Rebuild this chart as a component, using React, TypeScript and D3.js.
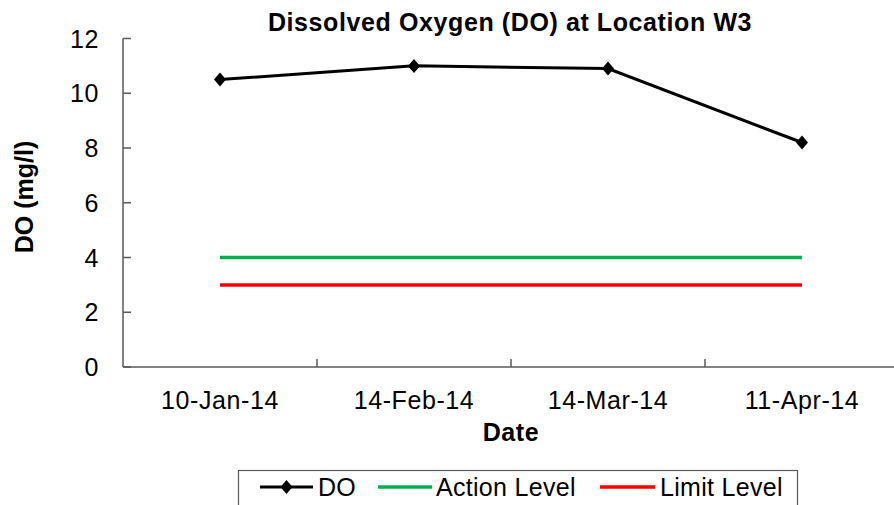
import { useEffect, useRef } from "react";
import * as d3 from "d3";

// data
const DATES = ["10-Jan-14", "14-Feb-14", "14-Mar-14", "11-Apr-14"];
const DO_VALUES = [10.5, 11.0, 10.9, 8.2];
const ACTION_LEVEL = [4, 4, 4, 4];
const LIMIT_LEVEL = [3, 3, 3, 3];
const Y_TICKS = [0, 2, 4, 6, 8, 10, 12];

const W = 894;
const H = 505;
const LEFT = 123;
const RIGHT = 899;
const TOP = 38.5;
const BOTTOM = 367;
const FONT = "'Liberation Sans', Arial, sans-serif";
const AXIS_COLOR = "#595959";
const GREEN = "#00B050";
const RED = "#FF0000";

const diamond = "M0,-7L6,0L0,7L-6,0Z";

export default function App() {
  const svgRef = useRef<SVGSVGElement>(null);

  useEffect(() => {
    if (!svgRef.current) return;
    const svg = d3.select(svgRef.current);
    svg.selectAll("*").remove();

    const x = d3.scaleBand<string>().domain(DATES).range([LEFT, RIGHT]);
    const y = d3.scaleLinear().domain([0, 12]).range([BOTTOM, TOP]);
    const cx = (d: string) => (x(d) as number) + x.bandwidth() / 2;

    const text = (sel: d3.Selection<SVGTextElement, unknown, null, undefined>) =>
      sel.attr("font-family", FONT).attr("font-size", 25).attr("letter-spacing", 0.6).attr("fill", "#000");

    // title
    svg.append("text").call(text)
      .attr("x", 510).attr("y", 31).attr("text-anchor", "middle")
      .attr("font-weight", "bold")
      .text("Dissolved Oxygen (DO) at Location W3");

    // y axis
    svg.append("line")
      .attr("x1", LEFT).attr("x2", LEFT).attr("y1", TOP).attr("y2", BOTTOM)
      .attr("stroke", AXIS_COLOR).attr("stroke-width", 1.5);
    Y_TICKS.forEach((t) => {
      svg.append("line")
        .attr("x1", LEFT).attr("x2", LEFT + 8).attr("y1", y(t)).attr("y2", y(t))
        .attr("stroke", AXIS_COLOR).attr("stroke-width", 1.5);
      svg.append("text").call(text)
        .attr("x", 99).attr("y", y(t) + 9).attr("text-anchor", "end")
        .text(String(t));
    });

    // x axis
    svg.append("line")
      .attr("x1", LEFT).attr("x2", RIGHT).attr("y1", BOTTOM).attr("y2", BOTTOM)
      .attr("stroke", AXIS_COLOR).attr("stroke-width", 1.5);
    DATES.forEach((d, i) => {
      const bx = (x(d) as number) + x.bandwidth();
      if (i < DATES.length - 1) {
        svg.append("line")
          .attr("x1", bx).attr("x2", bx).attr("y1", BOTTOM).attr("y2", BOTTOM - 8)
          .attr("stroke", AXIS_COLOR).attr("stroke-width", 1.5);
      }
      svg.append("text").call(text)
        .attr("x", cx(d)).attr("y", 409).attr("text-anchor", "middle")
        .text(d);
    });

    // axis titles
    svg.append("text").call(text)
      .attr("x", (LEFT + RIGHT) / 2).attr("y", 441).attr("text-anchor", "middle")
      .attr("font-weight", "bold").text("Date");
    svg.append("text").call(text)
      .attr("transform", `translate(33,197) rotate(-90)`)
      .attr("text-anchor", "middle").attr("font-weight", "bold")
      .attr("letter-spacing", 0)
      .text("DO (mg/l)");

    // series
    const line = d3.line<number>()
      .x((_, i) => cx(DATES[i]))
      .y((v) => y(v));

    svg.append("path").datum(LIMIT_LEVEL)
      .attr("d", line).attr("fill", "none").attr("stroke", RED).attr("stroke-width", 3.5);
    svg.append("path").datum(ACTION_LEVEL)
      .attr("d", line).attr("fill", "none").attr("stroke", GREEN).attr("stroke-width", 3.5);
    svg.append("path").datum(DO_VALUES)
      .attr("d", line).attr("fill", "none").attr("stroke", "#000").attr("stroke-width", 3);
    DO_VALUES.forEach((v, i) => {
      svg.append("path")
        .attr("d", diamond)
        .attr("transform", `translate(${cx(DATES[i])},${y(v)})`)
        .attr("fill", "#000");
    });

    // legend
    svg.append("rect")
      .attr("x", 238.5).attr("y", 470.5).attr("width", 559).attr("height", 50)
      .attr("fill", "none").attr("stroke", AXIS_COLOR).attr("stroke-width", 1.2);
    const ly = 487;
    const items = [
      { label: "DO", color: "#000", x1: 260, x2: 313, tx: 318, marker: true, w: 3 },
      { label: "Action Level", color: GREEN, x1: 378, x2: 432, tx: 436, marker: false, w: 3.5 },
      { label: "Limit Level", color: RED, x1: 600, x2: 655, tx: 660, marker: false, w: 3.5 },
    ];
    items.forEach((it) => {
      svg.append("line")
        .attr("x1", it.x1).attr("x2", it.x2).attr("y1", ly).attr("y2", ly)
        .attr("stroke", it.color).attr("stroke-width", it.w);
      if (it.marker) {
        svg.append("path").attr("d", diamond)
          .attr("transform", `translate(${(it.x1 + it.x2) / 2},${ly})`)
          .attr("fill", "#000");
      }
      svg.append("text").call(text)
        .attr("x", it.tx).attr("y", ly + 9).attr("letter-spacing", 0.3)
        .text(it.label);
    });
  }, []);

  return (
    <div style={{ width: W, height: H, overflow: "hidden" }}>
      <style>{`body{margin:0;background:#fff}`}</style>
      <svg ref={svgRef} width={W} height={H} viewBox={`0 0 ${W} ${H}`} style={{ display: "block" }} />
    </div>
  );
}
